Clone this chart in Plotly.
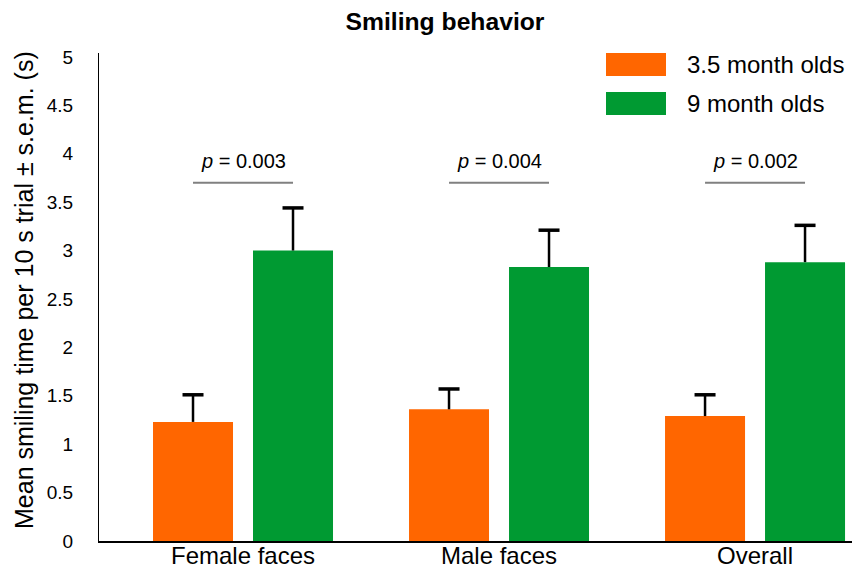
import plotly.graph_objects as go

# data
groups = ["Female faces", "Male faces", "Overall"]
young_mean = [1.23, 1.36, 1.29]
young_sem = [0.28, 0.21, 0.22]
older_mean = [3.00, 2.83, 2.88]
older_sem = [0.44, 0.38, 0.38]
p_values = ["0.003", "0.004", "0.002"]
sig_line_y = 3.70
sig_text_y = 3.92

ORANGE = "#FF6600"
GREEN = "#009A32"
FONT = "Liberation Sans, Arial, sans-serif"

offset = 0.1953
bar_w = 0.3125
idx = list(range(len(groups)))
x_young = [i - offset for i in idx]
x_older = [i + offset for i in idx]

fig = go.Figure()

for xs, means, sems, color, name in [
    (x_young, young_mean, young_sem, ORANGE, "3.5 month olds"),
    (x_older, older_mean, older_sem, GREEN, "9 month olds"),
]:
    fig.add_trace(go.Bar(
        x=xs, y=means, width=bar_w, name=name,
        marker=dict(color=color, line=dict(width=0)),
        error_y=dict(type="data", symmetric=False, array=sems,
                     arrayminus=[0] * len(sems), color="black",
                     thickness=2.5, width=0),
        showlegend=False,
    ))
    # caps on top of the error stems
    fig.add_trace(go.Scatter(
        x=xs, y=[m + s for m, s in zip(means, sems)], mode="markers",
        marker=dict(symbol="line-ew", size=15, line=dict(color="black", width=3.5)),
        showlegend=False, hoverinfo="skip",
    ))

# significance brackets
for i, p in zip(idx, p_values):
    fig.add_trace(go.Scatter(
        x=[x_young[i], x_older[i]], y=[sig_line_y, sig_line_y], mode="lines",
        line=dict(color="#808080", width=2), showlegend=False, hoverinfo="skip",
    ))
    fig.add_annotation(x=i, y=sig_text_y, text=f"<i>p</i> = {p}", showarrow=False,
                       font=dict(size=20, color="black", family=FONT),
                       xanchor="center", yanchor="middle")

# page has an 8px body margin, so figure coords = page coords - 8
OFF = 8
L, T, W = 99 - OFF, 53 - OFF, 761
B = 37
H = 570 - T - B
def px(x):
    return (x - OFF - L) / W
def py(y):
    return (T + H - (y - OFF)) / H

for y0, y1, color, label in [(53, 76, ORANGE, "3.5 month olds"), (92, 115, GREEN, "9 month olds")]:
    fig.add_shape(type="rect", xref="paper", yref="paper",
                  x0=px(606), x1=px(666), y0=py(y1), y1=py(y0),
                  fillcolor=color, line=dict(width=0))
    fig.add_annotation(xref="paper", yref="paper", x=px(685), y=py((y0 + y1) / 2),
                       text=label, showarrow=False, xanchor="left", yanchor="middle",
                       font=dict(size=24, color="black", family=FONT))

# y axis title
fig.add_annotation(xref="paper", yref="paper", x=px(24), y=py(290),
                   text="Mean smiling time per 10 s trial ± s.e.m. (s)", textangle=-90,
                   showarrow=False, xanchor="center", yanchor="middle",
                   font=dict(size=25, color="black", family=FONT))

fig.update_layout(
    width=860, height=570,
    margin=dict(l=L, r=860 - L - W, t=T, b=B),
    paper_bgcolor="white", plot_bgcolor="white",
    font=dict(family=FONT, color="black"),
    title=dict(text="<b>Smiling behavior</b>", x=(445 - OFF) / 860, xanchor="center",
               y=1 - (21 - OFF) / 570, yanchor="middle", yref="container",
               font=dict(size=24.7, color="black", family=FONT)),
    xaxis=dict(range=[-0.5625, 2.41], tickvals=idx, ticktext=groups,
               showgrid=False, zeroline=False, showline=True, linecolor="black",
               linewidth=1.5, ticks="", tickfont=dict(size=24), ticklabelstandoff=-8),
    yaxis=dict(range=[0, 5.04], tickvals=[0, 0.5, 1, 1.5, 2, 2.5, 3, 3.5, 4, 4.5, 5],
               ticktext=["0", "0.5", "1", "1.5", "2", "2.5", "3", "3.5", "4", "4.5", "5"],
               showgrid=False, zeroline=False, showline=True, linecolor="black",
               linewidth=1, ticks="", tickfont=dict(size=19), ticklabelstandoff=21),
)

fig.write_html("out.html")
